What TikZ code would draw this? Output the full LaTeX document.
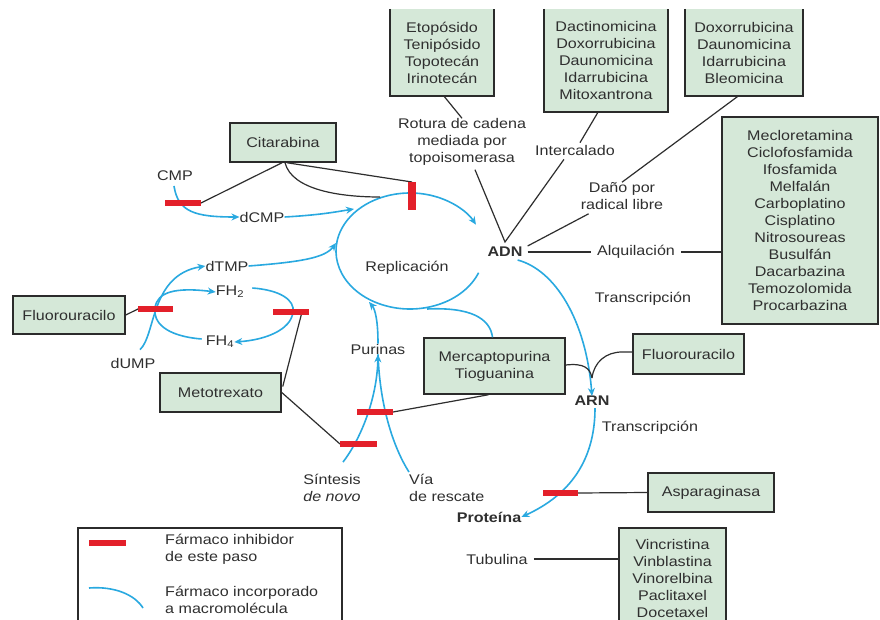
\documentclass[tikz,border=0pt]{standalone}
\usepackage{fontspec}
\setmainfont{Liberation Sans}[FakeStretch=1.15]
\usetikzlibrary{arrows.meta,calc}
\definecolor{boxfill}{HTML}{D5E8D8}
\definecolor{boxline}{HTML}{2B2B2B}
\definecolor{txt}{HTML}{2F2F2F}
\definecolor{connc}{HTML}{2E2E2E}
\definecolor{cyanline}{HTML}{29A9E0}
\definecolor{inhib}{HTML}{E3202A}
\begin{document}
\begin{tikzpicture}[x=1pt,y=-1pt,
  every node/.style={font=\fontsize{14}{17}\selectfont, text=txt, inner sep=0pt},
  drug/.style={draw=boxline, line width=1.5pt, fill=boxfill, align=center},
  obox/.style={fill=boxfill, align=center},
  openside/.style={draw=boxline, line width=1.5pt},
  lbl/.style={align=center},
  boldlbl/.style={font=\fontsize{14}{17}\selectfont\bfseries},
  conn/.style={draw=connc, line width=1.2pt},
  flow/.style={draw=cyanline, line width=1.6pt},
  flowarr/.style={flow, -{Stealth[length=8pt,width=7pt]}},
  inh/.style={draw=inhib, line width=6.5pt},
]
\useasboundingbox (0,0) rectangle (880,620);
\fill[white] (0,0) rectangle (880,620);

% ---------- top drug boxes (top edge cut off) ----------
\node[obox, minimum width=104pt, minimum height=87pt] (etop) at (442,52.5)
  {Etopósido\\Tenipósido\\Topotecán\\Irinotecán};
\node[obox, minimum width=124pt, minimum height=103pt] (dact) at (606,60.5)
  {Dactinomicina\\Doxorrubicina\\Daunomicina\\Idarrubicina\\Mitoxantrona};
\node[obox, minimum width=118pt, minimum height=87pt] (doxo) at (744,52.5)
  {Doxorrubicina\\Daunomicina\\Idarrubicina\\Bleomicina};
\foreach \b in {etop,dact,doxo}
  \draw[openside] (\b.north west) -- (\b.south west) -- (\b.south east) -- (\b.north east);

% ---------- other drug boxes ----------
\node[drug, minimum width=156pt, minimum height=207pt] (mecl) at (800,220.5)
  {Mecloretamina\\Ciclofosfamida\\Ifosfamida\\Melfalán\\Carboplatino\\Cisplatino\\Nitrosoureas\\Busulfán\\Dacarbazina\\Temozolomida\\Procarbazina};
\node[drug, minimum width=106pt, minimum height=39pt] (cita) at (283,142.5) {Citarabina};
\node[drug, minimum width=112pt, minimum height=38pt] (fluL) at (69,315) {Fluorouracilo};
\node[drug, minimum width=121pt, minimum height=39pt] (meto) at (220.5,392.5) {Metotrexato};
\node[drug, minimum width=141pt, minimum height=56pt] (merc) at (494.5,366) {Mercaptopurina\\Tioguanina};
\node[drug, minimum width=111pt, minimum height=40pt] (fluR) at (688.5,354) {Fluorouracilo};
\node[drug, minimum width=126pt, minimum height=39pt] (aspa) at (711,492.5) {Asparaginasa};
\node[obox, minimum width=107pt, minimum height=100pt] (vinca) at (672.5,578)
  {Vincristina\\Vinblastina\\Vinorelbina\\Paclitaxel\\Docetaxel};
\draw[openside] (vinca.south west) -- (vinca.north west) -- (vinca.north east) -- (vinca.south east);

% ---------- legend ----------
\node[fill=white, minimum width=264pt, minimum height=100pt] (legend) at (210,578) {};
\draw[openside] (legend.south west) -- (legend.north west) -- (legend.north east) -- (legend.south east);
\node[align=left, anchor=west] (leginh) at (165,549) {Fármaco inhibidor\\de este paso};
\node[align=left, anchor=west] (leginc) at (165,600) {Fármaco incorporado\\a macromolécula};

% ---------- labels ----------
\node[lbl] (rotura) at (462,142) {Rotura de cadena\\mediada por\\topoisomerasa};
\node[lbl] (intercal) at (575,150) {Intercalado};
\node[lbl] (dano) at (622,196) {Daño por\\radical libre};
\node[boldlbl] (adn) at (505,252) {ADN};
\node[lbl] (alq) at (636,252) {Alquilación};
\node[lbl] (transc1) at (643,299) {Transcripción};
\node[boldlbl] (arn) at (592,401) {ARN};
\node[lbl] (transc2) at (650,428) {Transcripción};
\node[boldlbl] (prot) at (489,517) {Proteína};
\node[lbl] (tub) at (497,559) {Tubulina};
\node[lbl] (repl) at (407,268) {Replicación};
\node[lbl] (cmp) at (175,176) {CMP};
\node[lbl] (dcmp) at (262,217) {dCMP};
\node[lbl] (dtmp) at (227,266) {dTMP};
\node[lbl] (fh2) at (230,292) {FH\textsubscript{2}};
\node[lbl] (fh4) at (220,342) {FH\textsubscript{4}};
\node[lbl] (dump) at (133,363) {dUMP};
\node[lbl] (purinas) at (378,349) {Purinas};
\node[lbl] (sintesis) at (332,488) {Síntesis\\\textit{de novo}};
\node[align=left, anchor=west] (via) at (409,488) {Vía\\de rescate};

% ---------- named points ----------
\coordinate (cmpbarL) at (165,203);  \coordinate (cmpbarR) at (201,203);
\coordinate (repbarT) at (412,182);  \coordinate (repbarB) at (412,210);
\coordinate (flubarL) at (138,309);  \coordinate (flubarR) at (173,309);
\coordinate (fhbarL) at (273,312);   \coordinate (fhbarR) at (309,312);
\coordinate (pubarAL) at (357,412);  \coordinate (pubarAR) at (393,412);
\coordinate (pubarBL) at (340,444);  \coordinate (pubarBR) at (377,444);
\coordinate (asbarL) at (543,493);   \coordinate (asbarR) at (578,493);
\coordinate (legbarL) at (89,543);   \coordinate (legbarR) at (126,543);
\coordinate (repc) at (410,251);
\coordinate (join) at (592,378);

% ---------- blue flows ----------
% replication loop
\draw[flowarr] (repc) ++(22:74 and 58) arc[start angle=22, end angle=333, x radius=74, y radius=58];
% CMP -> dCMP
\draw[flowarr] (174,186) .. controls (178,212) and (195,217) .. (dcmp.west);
% dCMP -> loop
\draw[flowarr] (dcmp.east) .. controls (320,215) and (335,212) .. (354,209);
% dUMP -> dTMP
\draw[flowarr] (dump.north) ++(7,-8) .. controls (156,335) and (150,275) .. (dtmp.west);
% FH4 -> FH2
\draw[flowarr] (fh4.west) ++(-4,-3) .. controls (165,336) and (153,322) .. (155,308)
  .. controls (157,292) and (175,287) .. (fh2.west);
% FH2 -> FH4
\draw[flowarr] (fh2.east) ++(8,-4) .. controls (280,290) and (295,300) .. (293,312)
  .. controls (291,330) and (265,340) .. (fh4.east);
% dTMP -> loop
\draw[flowarr] (dtmp.east) .. controls (300,262) and (325,258) .. (336,243);
% Purinas -> loop
\draw[flowarr] (purinas.north) .. controls (378,320) and (375,309) .. (369,302);
% Mercaptopurina incorporated
\draw[flow] (merc.north) ++(-2,0) .. controls (490,318) and (470,307) .. (427,309);
% de novo / salvage -> Purinas
\draw[flowarr] (sintesis.north) ++(11,-12) .. controls (360,440) and (377,400) .. (purinas.south);
\draw[flow] (via.north west) ++(0,-2) .. controls (395,450) and (380,410) .. (purinas.south);
% ADN -> ARN
\draw[flowarr] (adn.south east) ++(-5,3) .. controls (555,270) and (586,320) .. (arn.north);
% ARN -> Proteina
\draw[flowarr] (arn.south) ++(3,2) .. controls (595,460) and (570,495) .. (prot.east);
% legend
\draw[flow] (89,588) .. controls (115,586) and (135,595) .. (143,608);

% ---------- dark connectors ----------
\draw[conn] (etop.south) ++(2,0) -- (rotura.north);
\draw[conn] (dact.south) ++(-8,0) -- ($(intercal.north)+(5,-2)$);
\draw[conn] (doxo.south) ++(-6,0) -- (dano.north);
\draw[conn] ($(rotura.south)+(13,4)$) -- ($(adn.north)+(0,-5)$) -- ($(intercal.south)+(-11,4)$);
\draw[conn] ($(adn.north east)+(5,-1)$) -- ($(dano.south west)+(8,4)$);
\draw[conn] (adn.east) ++(5,0) -- ($(alq.west)+(-6,0)$);
\draw[conn] (alq.east) ++(6,0) -- (mecl.west |- alq.east);
\draw[conn] (cita.south) ++(-1,0) -- (cmpbarR);
\draw[conn] (cita.south) ++(4,0) -- (repbarT);
\draw[conn] (cita.south) ++(2,0) .. controls (292,190) and (340,197) .. (380,197);
\draw[conn] (fluL.east) -- (flubarL);
\draw[conn] (meto.east) ++(1,-6) -- ($(fhbarR)+(-7,0)$);
\draw[conn] (meto.east) -- (pubarBL);
\draw[conn] (merc.south) ++(-6,0) -- (pubarAR);
\draw[conn] (fluR.west) ++(0,-2) -- (622,352) .. controls (606,352) and (594,362) .. (join);
\draw[conn] (merc.east) ++(0,-1) .. controls (584,363) and (590,368) .. (join);
\draw[conn] (asbarR) -- (aspa.west);
\draw[conn] (tub.east) ++(6,0) -- (vinca.west |- tub.east);

% ---------- inhibition bars ----------
\draw[inh] (cmpbarL) -- (cmpbarR);
\draw[inh, line width=8pt] (repbarT) -- (repbarB);
\draw[inh] (flubarL) -- (flubarR);
\draw[inh] (fhbarL) -- (fhbarR);
\draw[inh] (pubarAL) -- (pubarAR);
\draw[inh] (pubarBL) -- (pubarBR);
\draw[inh] (asbarL) -- (asbarR);
\draw[inh] (legbarL) -- (legbarR);
\end{tikzpicture}
\end{document}
